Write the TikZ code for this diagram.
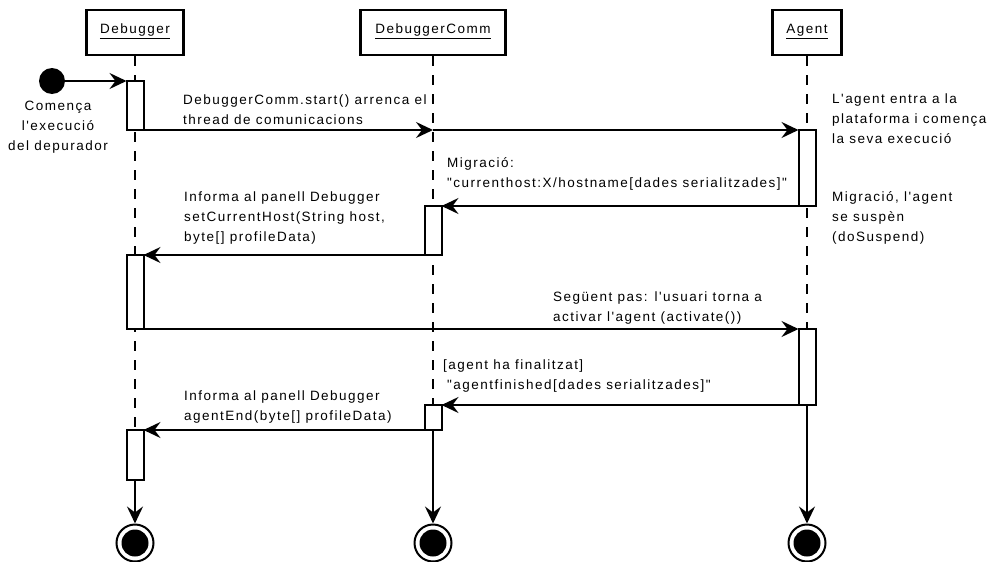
\documentclass[tikz,border=0pt]{standalone}
\usepackage{fontspec}
% a family of its own, so quotes and apostrophes stay straight
\newfontfamily\lblfont{Liberation Sans}[LetterSpace=11]
\usetikzlibrary{arrows.meta, backgrounds}

\begin{document}
\begin{tikzpicture}[x=1pt, y=-1pt,
  every node/.style={font=\lblfont\fontsize{13.5}{20}\selectfont},
  head/.style={draw, line width=2.2pt, rectangle, minimum height=45pt, inner sep=0pt},
  headtxt/.style={inner sep=0pt, anchor=base},
  uline/.style={line width=1.2pt},
  act/.style={draw, line width=2pt, fill=white, minimum width=17pt, inner sep=0pt, outer sep=0pt},
  msg/.style={line width=2pt, -{Stealth[length=17pt, width=16pt, inset=6pt]}},
  lifeline/.style={line width=1.5pt, dash pattern=on 10pt off 9pt},
  lbl/.style={align=left, inner sep=0pt, anchor=west},
  finalring/.style={circle, draw, line width=2pt, minimum size=37pt, inner sep=0pt},
  finaldot/.style={circle, fill, minimum size=27pt, inner sep=0pt}]

\useasboundingbox (0,0) rectangle (993,562);

% lifeline heads
\node[head, minimum width=97pt]  (dbg) at (135,32.5) {};
\node[head, minimum width=145pt] (com) at (433,32.5) {};
\node[head, minimum width=69pt]  (agt) at (807,32.5) {};
\node[headtxt] (dbgt) at (135,33) {Debugger};
\node[headtxt] (comt) at (433,33) {DebuggerComm};
\node[headtxt] (agtt) at (807,33) {Agent};
\draw[uline] ([yshift=-5.5pt]dbgt.base west) -- ([yshift=-5.5pt]dbgt.base east);
\draw[uline] ([yshift=-5.5pt]comt.base west) -- ([yshift=-5.5pt]comt.base east);
\draw[uline] ([yshift=-5.5pt]agtt.base west) -- ([yshift=-5.5pt]agtt.base east);

% activation bars
\node[act, minimum height=49pt] (d1) at (135,105.5) {};
\node[act, minimum height=76pt] (a1) at (807,168) {};
\node[act, minimum height=49pt] (c1) at (433,230.5) {};
\node[act, minimum height=74pt] (d2) at (135,292) {};
\node[act, minimum height=76pt] (a2) at (807,367) {};
\node[act, minimum height=25pt] (c2) at (433,417.5) {};
\node[act, minimum height=50pt] (d3) at (135,455) {};

% initial and final states
\node[circle, fill, minimum size=26pt, inner sep=0pt] (init) at (52,81) {};
\node[finalring] (fd) at (135,543) {};
\node[finaldot]  (fdi) at (fd) {};
\node[finalring] (fc) at (433,543) {};
\node[finaldot]  (fci) at (fc) {};
\node[finalring] (fa) at (807,543) {};
\node[finaldot]  (fai) at (fa) {};

\coordinate (hop) at (433,130);

% messages
\draw[msg] (init) -- (d1.north west);
\draw[msg] (d1.south east) -- (hop);
\draw[msg] (hop) -- (a1.north west);
\draw[msg] (a1.south west) -- (c1.north east);
\draw[msg] (c1.south west) -- (d2.north east);
\draw[msg] (d2.south east) -- (a2.north west);
\draw[msg] (a2.south west) -- (c2.north east);
\draw[msg] (c2.south west) -- (d3.north east);
\draw[msg] (d3.south) -- (fd.north);
\draw[msg] (c2.south) -- (fc.north);
\draw[msg] (a2.south) -- (fa.north);

% lifelines behind the bars
\begin{scope}[on background layer]
\draw[lifeline] (dbg.south) -- (d3.south);
\draw[lifeline] (com.south) -- (c2.south);
\draw[lifeline] (agt.south) -- (a2.south);
\end{scope}

% labels
\node[align=center, inner sep=0pt] (lstart) at (58,127.5) {Comença\\l'execució\\del depurador};
\node[lbl] (l1) at (183,110) {DebuggerComm.start() arrenca el\\thread de comunicacions};
\node[lbl] (l2) at (832,119) {L'agent entra a la\\plataforma i comença\\la seva execució};
\node[lbl] (l3) at (447,174) {Migració:\\"currenthost:X/hostname[dades serialitzades]"};
\node[lbl] (l4) at (832,218) {Migració, l'agent\\se suspèn\\(doSuspend)};
\node[lbl] (l5) at (184,218) {Informa al panell Debugger\\setCurrentHost(String host,\\byte[] profileData)};
\node[lbl] (l6) at (553,308) {Següent pas: l'usuari torna a\\activar l'agent (activate())};
\node[lbl] (l7) at (443,376) {[agent ha finalitzat]\\\hspace*{4pt}"agentfinished[dades serialitzades]"};
\node[lbl] (l8) at (184,407.5) {Informa al panell Debugger\\agentEnd(byte[] profileData)};
\end{tikzpicture}
\end{document}
